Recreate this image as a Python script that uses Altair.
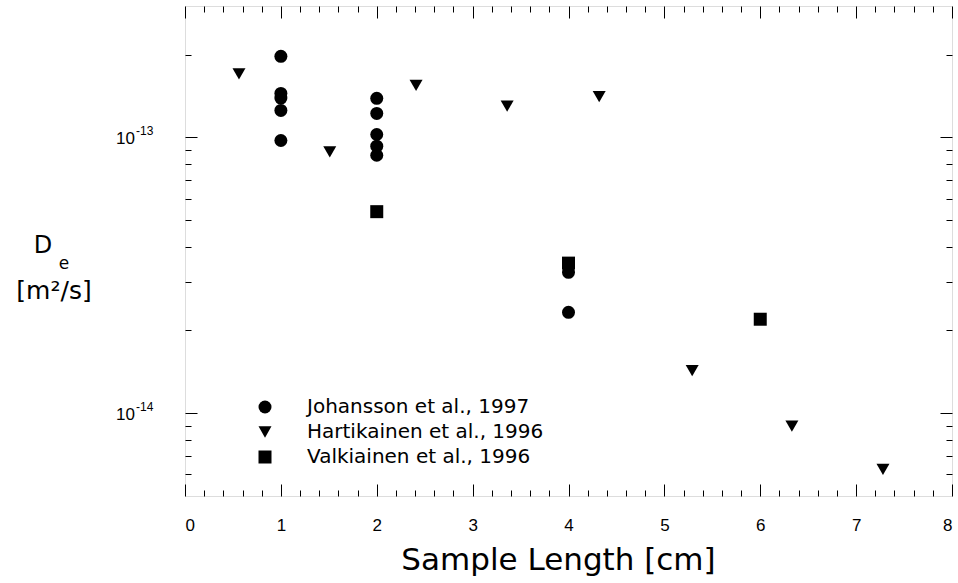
import altair as alt
import pandas as pd

# ---- data ----
series_names = ["Johansson et al., 1997", "Hartikainen et al., 1996", "Valkiainen et al., 1996"]
series_shapes = ["circle", "triangle-down", "square"]

johansson_x = [1, 1, 1, 1, 1, 2, 2, 2, 2, 2, 4, 4]
johansson_y = [1.97e-13, 1.445e-13, 1.39e-13, 1.254e-13, 0.975e-13,
               1.387e-13, 1.223e-13, 1.025e-13, 0.930e-13, 0.862e-13,
               3.24e-14, 2.32e-14]

hart_x = [0.563, 1.51, 2.41, 3.36, 4.32, 5.29, 6.33, 7.28]
hart_y = [1.70e-13, 0.887e-13, 1.546e-13, 1.30e-13, 1.406e-13, 1.425e-14, 8.97e-15, 6.24e-15]

valk_x = [2, 4, 6]
valk_y = [5.38e-14, 3.50e-14, 2.19e-14]

x_major = [0, 1, 2, 3, 4, 5, 6, 7, 8]
x_minor = [0.2, 0.4, 0.6, 0.8, 1.2, 1.4, 1.6, 1.8, 2.2, 2.4, 2.6, 2.8,
           3.2, 3.4, 3.6, 3.8, 4.2, 4.4, 4.6, 4.8, 5.2, 5.4, 5.6, 5.8,
           6.2, 6.4, 6.6, 6.8, 7.2, 7.4, 7.6, 7.8]
y_major = [1e-14, 1e-13]
y_major_sup = ["-14", "-13"]
y_minor = [6e-15, 7e-15, 8e-15, 9e-15, 2e-14, 3e-14, 4e-14, 5e-14, 6e-14,
           7e-14, 8e-14, 9e-14, 2e-13]

x_title = "Sample Length [cm]"

# ---- tables ----
df = pd.concat([
    pd.DataFrame({"x": johansson_x, "y": johansson_y, "series": series_names[0]}),
    pd.DataFrame({"x": hart_x, "y": hart_y, "series": series_names[1]}),
    pd.DataFrame({"x": valk_x, "y": valk_y, "series": series_names[2]}),
], ignore_index=True)

ylab = pd.DataFrame({"y": y_major, "sup": y_major_sup})

xs = alt.Scale(domain=[0, 8], nice=False, zero=False)
ys = alt.Scale(type="log", domain=[5e-15, 3e-13], nice=False)

TICK = dict(domain=False, grid=False, tickColor="black", tickWidth=1, title=None)


def axis_layer(x_orient, y_orient, xv, yv, size, offset):
    return alt.Chart(df).mark_point(opacity=0).encode(
        x=alt.X("x:Q", scale=xs, axis=alt.Axis(orient=x_orient, offset=offset, tickSize=size,
                                                 values=xv, labels=False, **TICK)),
        y=alt.Y("y:Q", scale=ys, axis=alt.Axis(orient=y_orient, offset=offset, tickSize=size,
                                                 values=yv, labels=False, **TICK)),
    )


points = alt.Chart(df).mark_point(filled=True, color="black", opacity=1, size=169).encode(
    x=alt.X("x:Q", scale=xs, axis=alt.Axis(
        orient="bottom", offset=-12, tickSize=12, values=x_major, domain=False, grid=False,
        tickColor="black", labelFont="Liberation Sans", labelFontSize=17, labelColor="black",
        labelPadding=21, title=x_title, titleFont="DejaVu Sans", titleFontSize=31,
        titleFontWeight="normal", titleColor="black", titleY=61, titleX=373,
        titleAlign="center", titleBaseline="top")),
    y=alt.Y("y:Q", scale=ys, axis=alt.Axis(
        orient="left", offset=-12, tickSize=12, values=y_major, labels=False, **TICK)),
    shape=alt.Shape("series:N", scale=alt.Scale(domain=series_names, range=series_shapes),
                    legend=alt.Legend(orient="none", legendX=70, legendY=391, title=None,
                                      labelFont="DejaVu Sans", labelFontSize=20, labelColor="black",
                                      labelLimit=0,
                                      symbolSize=169, symbolFillColor="black", symbolStrokeWidth=0,
                                      symbolOpacity=1, labelOffset=32, rowPadding=5, padding=0)),
)

lbl10 = alt.Chart(ylab).mark_text(align="right", baseline="middle", font="Liberation Sans",
                                  fontSize=17, dy=2, text="10", color="black").encode(
    x=alt.value(-50), y=alt.Y("y:Q", scale=ys, axis=None))
lblsup = alt.Chart(ylab).mark_text(align="left", baseline="middle", font="Liberation Sans",
                                   fontSize=12, dy=-6, color="black").encode(
    x=alt.value(-49), y=alt.Y("y:Q", scale=ys, axis=None), text="sup:N")

t_D = alt.Chart(pd.DataFrame({"t": ["D"]})).mark_text(
    font="DejaVu Sans", fontSize=24, color="black", baseline="middle", align="center").encode(
    text="t:N", x=alt.value(-142), y=alt.value(240))
t_e = alt.Chart(pd.DataFrame({"t": ["e"]})).mark_text(
    font="DejaVu Sans", fontSize=17, color="black", baseline="middle", align="center").encode(
    text="t:N", x=alt.value(-121), y=alt.value(258))
t_unit = alt.Chart(pd.DataFrame({"t": ["[m²/s]"]})).mark_text(
    font="DejaVu Sans", fontSize=25, color="black", baseline="middle", align="center").encode(
    text="t:N", x=alt.value(-131), y=alt.value(285))

chart = alt.layer(
    axis_layer("bottom", "left", x_minor, y_minor, 6, -6),
    axis_layer("top", "right", x_major, y_major, 12, -12),
    axis_layer("top", "right", x_minor, y_minor, 6, -6),
    points, lbl10, lblsup, t_D, t_e, t_unit,
).resolve_axis(x="independent", y="independent").properties(
    width=767, height=490,
    autosize=alt.AutoSizeParams(type="none"),
    padding={"left": 185, "top": 6, "right": 6, "bottom": 87},
).configure_view(stroke="black", strokeWidth=1.2).configure(background="white")

chart.save("out.html", embed_options={"renderer": "svg", "actions": False})
